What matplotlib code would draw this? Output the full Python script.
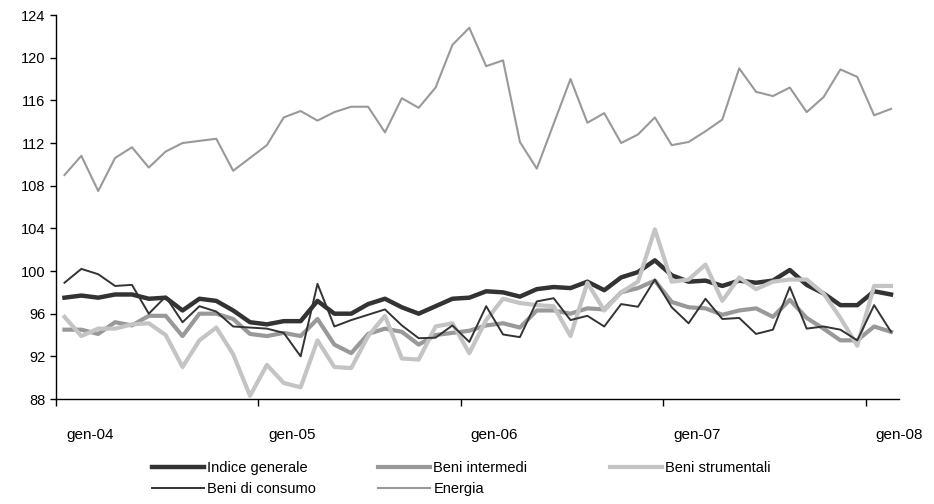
import numpy as np
import matplotlib
matplotlib.use("Agg")
import matplotlib.pyplot as plt

plt.rcParams['font.family'] = ['Liberation Sans', 'DejaVu Sans']

# monthly index, gen-04 .. feb-08
indice = [97.5, 97.7, 97.5, 97.8, 97.8, 97.4, 97.5, 96.3, 97.4, 97.2,
          96.3, 95.2, 95.0, 95.3, 95.3, 97.2, 96.0, 96.0, 96.9, 97.4,
          96.6, 96.0, 96.7, 97.4, 97.5, 98.1, 98.0, 97.6, 98.3, 98.5,
          98.4, 99.0, 98.2, 99.4, 99.9, 101.0, 99.6, 99.0, 99.1, 98.6,
          99.1, 98.9, 99.1, 100.1, 98.7, 97.9, 96.8, 96.8, 98.1, 97.8]
intermedi = [94.5, 94.5, 94.1, 95.2, 94.9, 95.8, 95.8, 93.9, 96.0, 96.0,
             95.5, 94.1, 93.9, 94.2, 93.9, 95.5, 93.1, 92.3, 94.1, 94.6,
             94.3, 93.1, 94.0, 94.2, 94.4, 94.9, 95.1, 94.7, 96.3, 96.3,
             96.0, 96.5, 96.4, 98.0, 98.4, 99.1, 97.1, 96.6, 96.5, 95.9,
             96.3, 96.5, 95.7, 97.3, 95.6, 94.6, 93.5, 93.5, 94.8, 94.3]
strumentali = [95.7, 93.9, 94.6, 94.6, 95.0, 95.1, 94.0, 91.0, 93.5, 94.7,
               92.2, 88.3, 91.2, 89.5, 89.1, 93.5, 91.0, 90.9, 93.9, 95.8,
               91.8, 91.7, 94.8, 95.1, 92.3, 95.4, 97.4, 97.0, 96.8, 96.7,
               93.9, 98.9, 96.3, 98.0, 99.0, 103.9, 99.0, 99.2, 100.6, 97.2,
               99.4, 98.3, 99.0, 99.2, 99.2, 97.9, 95.6, 93.0, 98.6, 98.6]
consumo = [98.9, 100.2, 99.7, 98.6, 98.7, 96.0, 97.6, 95.2, 96.7, 96.2,
           94.8, 94.7, 94.6, 94.2, 92.0, 98.8, 94.8, 95.4, 95.9, 96.4,
           94.9, 93.7, 93.75, 94.9, 93.35, 96.7, 94.05, 93.8, 97.15, 97.45,
           95.4, 95.8, 94.8, 96.9, 96.65, 99.2, 96.6, 95.1, 97.4, 95.5,
           95.6, 94.1, 94.5, 98.5, 94.6, 94.8, 94.5, 93.5, 96.8, 94.3]
energia = [109.0, 110.8, 107.5, 110.6, 111.6, 109.7, 111.2, 112.0, 112.2, 112.4,
           109.4, 110.6, 111.8, 114.4, 115.0, 114.1, 114.9, 115.4, 115.4, 113.0,
           116.2, 115.3, 117.2, 121.2, 122.8, 119.2, 119.75, 112.1, 109.6, 113.8,
           118.0, 113.9, 114.8, 112.0, 112.8, 114.4, 111.8, 112.1, 113.1, 114.2,
           119.0, 116.8, 116.4, 117.2, 114.9, 116.3, 118.9, 118.2, 114.6, 115.2]

year_labels = ['gen-04', 'gen-05', 'gen-06', 'gen-07', 'gen-08']

x = np.arange(len(indice))

fig = plt.figure(figsize=(9.34, 5.04), dpi=100)
ax = fig.add_axes([0.06, 0.2083, 0.903, 0.7619])

l1, = ax.plot(x, indice, color='#333333', lw=3.2, label='Indice generale')
l2, = ax.plot(x, intermedi, color='#999999', lw=3.0, label='Beni intermedi')
l3, = ax.plot(x, strumentali, color='#c4c4c4', lw=3.0, label='Beni strumentali')
l4, = ax.plot(x, consumo, color='#333333', lw=1.4, label='Beni di consumo')
l5, = ax.plot(x, energia, color='#999999', lw=1.5, label='Energia')

ax.set_xlim(-0.5, len(x) - 0.5)
ax.set_ylim(88, 124)
ax.set_yticks(np.arange(88, 125, 4))

# year ticks between categories, labels shifted right
ax.set_xticks(np.arange(-0.5, len(x), 12))
ax.set_xticklabels([])
ax.set_xticks(np.arange(1.5, len(x) + 1, 12), minor=True)
ax.set_xticklabels(year_labels, minor=True)
ax.tick_params(axis='x', which='minor', length=0, pad=21, labelsize=11)
ax.tick_params(axis='x', which='major', length=5, direction='out', width=1)
ax.tick_params(axis='y', length=4, direction='out', width=1, labelsize=10.5)

for s in ['top', 'right']:
    ax.spines[s].set_visible(False)
for s in ['left', 'bottom']:
    ax.spines[s].set_linewidth(1)

# one legend per column, Excel-like spacing
cols = [([l1, l4], 0.1627), ([l2, l5], 0.4047), ([l3], 0.6531)]
for handles, xpos in cols:
    leg = fig.legend(handles, [h.get_label() for h in handles],
                     loc='upper left', bbox_to_anchor=(xpos, 0.085),
                     frameon=False, fontsize=10.5, handlelength=3.6,
                     handletextpad=0.2, labelspacing=0.45, borderpad=0,
                     borderaxespad=0)

fig.savefig('out.png', dpi=100)
